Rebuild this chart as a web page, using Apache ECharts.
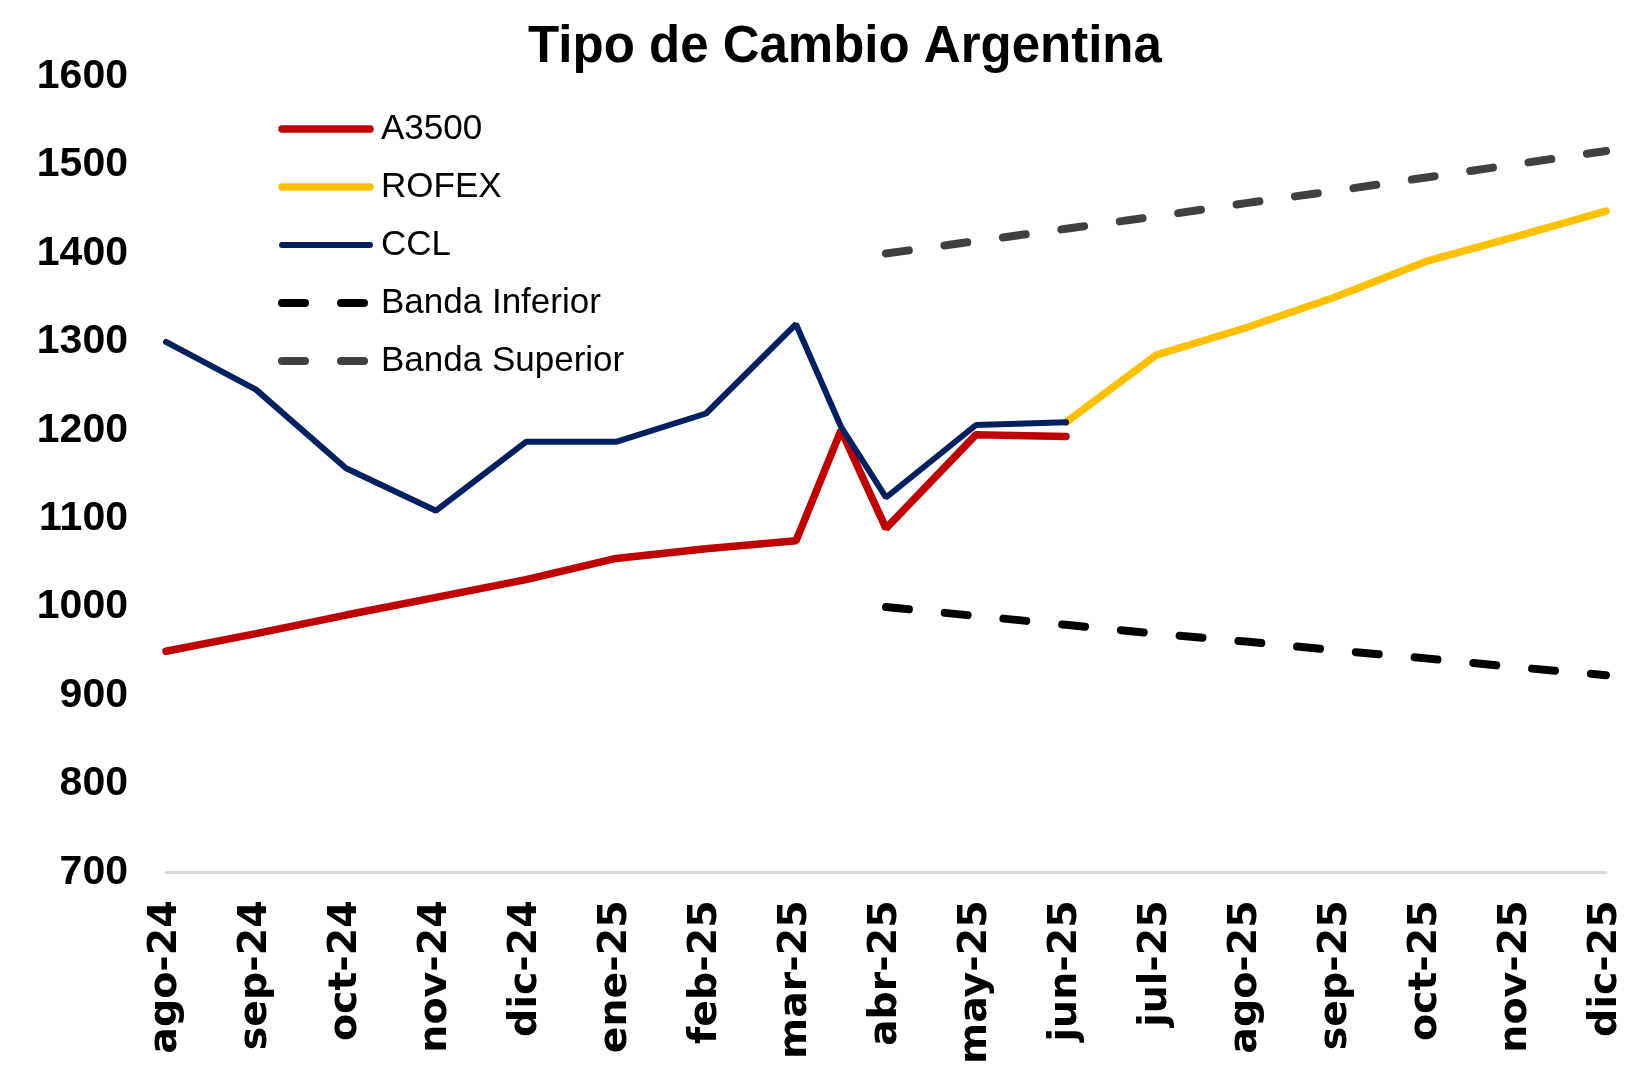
<!DOCTYPE html>
<html>
<head>
<meta charset="utf-8">
<script src="https://cdn.jsdelivr.net/npm/echarts@6/dist/echarts.min.js"></script>
<style>
  html, body { margin: 0; padding: 0; background: #fff; }
  #chart { width: 1630px; height: 1067px; }
</style>
</head>
<body>
<div id="chart"></div>
<script>
// month labels on the x axis (one tick per month)
const months = ['ago-24', 'sep-24', 'oct-24', 'nov-24', 'dic-24', 'ene-25', 'feb-25', 'mar-25',
  'abr-25', 'may-25', 'jun-25', 'jul-25', 'ago-25', 'sep-25', 'oct-25', 'nov-25', 'dic-25'];

// position of each observation in months from ago-24 (7.5 = mid point mar/abr)
const histX = [0, 1, 2, 3, 4, 5, 6, 7, 7.5, 8, 9, 10];
const a3500 = [950, 970, 991, 1011, 1031, 1055, 1066, 1075, 1200, 1089, 1195, 1193];
const ccl = [1300, 1246, 1157, 1109, 1187, 1187, 1219, 1320, 1204, 1124, 1206, 1209];

const rofexX = [10, 11, 12, 13, 14, 15, 16];
const rofex = [1209, 1285, 1316, 1351, 1391, 1419, 1448];

const bandX = [8, 9, 10, 11, 12, 13, 14, 15, 16];
const bandaInferior = [1000, 990, 980, 970, 961, 951, 942, 932, 923];
const bandaSuperior = [1400, 1414, 1428, 1442, 1457, 1471, 1486, 1501, 1516];

const yTicks = [700, 800, 900, 1000, 1100, 1200, 1300, 1400, 1500, 1600];

const colors = {
  'A3500': '#C00000',
  'ROFEX': '#FFC000',
  'CCL': '#002060',
  'Banda Inferior': '#000000',
  'Banda Superior': '#404040'
};
const widths = {
  'A3500': 7.5,
  'ROFEX': 7.5,
  'CCL': 6,
  'Banda Inferior': 8,
  'Banda Superior': 8
};
const dash = [23, 36];

function pairs(xs, ys) {
  return xs.map((x, i) => [x, ys[i]]);
}

function legendItem(name, type) {
  return {
    name: name,
    itemStyle: { opacity: 0 },
    lineStyle: { color: colors[name], width: widths[name], type: type || 'solid', cap: 'round' }
  };
}

function lineSeries(name, xs, ys, z, type) {
  return {
    name: name, type: 'line', symbol: 'none', z: z,
    data: pairs(xs, ys),
    lineStyle: { color: colors[name], width: widths[name], type: type || 'solid', cap: 'round' },
    itemStyle: { color: colors[name] }
  };
}

const chart = echarts.init(document.getElementById('chart'));

chart.setOption({
  animation: false,
  backgroundColor: '#ffffff',
  title: {
    text: 'Tipo de Cambio Argentina',
    left: 840,
    textAlign: 'center',
    top: 17,
    textStyle: { fontFamily: 'Liberation Sans', fontWeight: 'bold', fontSize: 51, color: '#000' }
  },
  legend: {
    orient: 'vertical',
    left: 273,
    top: 104,
    itemWidth: 88,
    itemHeight: 20,
    itemGap: 18,
    data: [
      legendItem('A3500'),
      legendItem('ROFEX'),
      legendItem('CCL'),
      legendItem('Banda Inferior', dash),
      legendItem('Banda Superior', dash)
    ],
    textStyle: { fontFamily: 'Liberation Sans', fontSize: 35, color: '#000', lineHeight: 40, padding: [0, 0, 0, 6] }
  },
  grid: { left: 166, right: 24, top: 76.7, bottom: 180.3, containLabel: false },
  xAxis: {
    type: 'value',
    min: 0,
    max: months.length - 1,
    interval: 1,
    axisLine: { show: true, lineStyle: { color: '#D9D9D9', width: 3 } },
    axisTick: { show: false },
    splitLine: { show: false },
    axisLabel: {
      rotate: 90,
      margin: 28,
      fontFamily: 'DejaVu Sans',
      fontWeight: 'bold',
      fontSize: 39.5,
      color: '#000',
      formatter: v => months[v] || ''
    }
  },
  yAxis: {
    type: 'value',
    min: yTicks[0],
    max: yTicks[yTicks.length - 1],
    interval: 100,
    axisLine: { show: false },
    axisTick: { show: false },
    splitLine: { show: false },
    axisLabel: {
      margin: 38,
      fontFamily: 'Liberation Sans',
      fontWeight: 'bold',
      fontSize: 41,
      color: '#000',
      formatter: v => String(v)
    }
  },
  series: [
    lineSeries('Banda Inferior', bandX, bandaInferior, 2, dash),
    lineSeries('Banda Superior', bandX, bandaSuperior, 2, dash),
    lineSeries('ROFEX', rofexX, rofex, 3),
    lineSeries('A3500', histX, a3500, 4),
    lineSeries('CCL', histX, ccl, 5)
  ]
});
</script>
</body>
</html>
